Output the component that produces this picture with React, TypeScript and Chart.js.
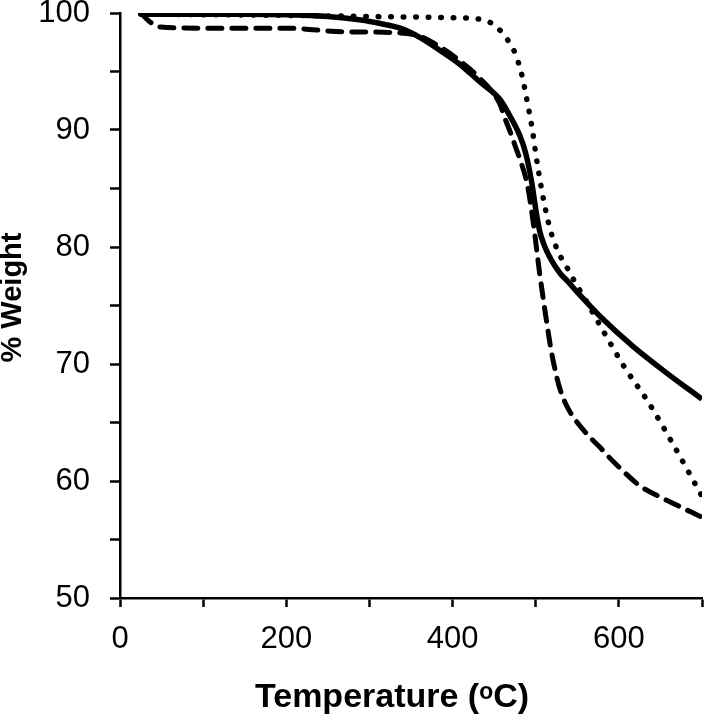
import React, { useEffect, useRef } from "react";
import { Chart, registerables } from "chart.js";

Chart.register(...registerables);

const solidT = [25, 150, 250, 290, 313, 337, 361, 385, 409, 433, 457, 469, 481, 488, 495, 501, 505, 509, 513, 518, 523, 530, 538, 553, 577, 617, 658, 700];
const solidW = [99.9, 99.9, 99.7, 99.4, 99.1, 98.7, 97.9, 96.8, 95.6, 94.1, 92.6, 91.2, 89.5, 88.0, 85.6, 82.8, 81.3, 80.4, 79.7, 79.0, 78.4, 77.7, 77.1, 75.9, 74.1, 71.5, 69.2, 67.0];

const dotT = [25, 200, 300, 400, 430, 445, 453, 461, 469, 475, 479, 484, 488, 492, 496, 500, 504, 509, 517, 527, 538, 548, 559, 571, 583, 607, 634, 664, 700];
const dotW = [99.9, 99.8, 99.7, 99.6, 99.5, 99.2, 98.8, 98.2, 97.4, 96.6, 95.8, 94.5, 93.1, 91.6, 90.0, 88.0, 86.2, 84.2, 81.6, 79.6, 78.2, 76.9, 75.6, 74.1, 72.6, 69.7, 66.9, 63.3, 58.7];

const dashT = [25, 35, 49, 100, 200, 268, 337, 361, 385, 409, 433, 457, 463, 469, 475, 481, 490, 497, 505, 509, 514, 518, 523, 529, 536, 543, 550, 563, 577, 586, 600, 625, 645, 665, 700];
const dashW = [100, 99.3, 98.8, 98.7, 98.7, 98.4, 98.3, 98.0, 97.1, 95.9, 94.4, 92.2, 91.0, 89.9, 88.7, 87.5, 85.3, 82.1, 77.6, 75.6, 73.2, 71.4, 69.6, 67.9, 66.6, 65.7, 65.0, 63.9, 62.9, 62.2, 61.2, 59.6, 58.8, 58.1, 56.9];

const xLabels = [0, 200, 400, 600];
const yLabels = [50, 60, 70, 80, 90, 100];

const xTitle = "Temperature (\u1D52C)";
const yTitle = "% Weight";

const toPts = (xs: number[], ys: number[]) => xs.map((x, i) => ({ x, y: ys[i] }));

const shiftTitle = (s: any, dx: number, dy: number) => {
  if (s.__titleShifted) return;
  s.__titleShifted = true;
  const orig = s.drawTitle.bind(s);
  s.drawTitle = () => {
    const ctx = s.ctx;
    ctx.save();
    ctx.translate(dx, dy);
    orig();
    ctx.restore();
  };
};

export default function App() {
  const ref = useRef<HTMLCanvasElement | null>(null);
  useEffect(() => {
    if (!ref.current) return;
    const font = "'Liberation Sans', Arial, sans-serif";
    const chart = new Chart(ref.current, {
      type: "line",
      data: {
        datasets: [
          {
            label: "dashed",
            data: toPts(dashT, dashW),
            borderColor: "#000",
            borderWidth: 5,
            borderDash: [14, 10],
            borderCapStyle: "round",
            pointRadius: 0,
            cubicInterpolationMode: "monotone",
          },
          {
            label: "dotted",
            data: toPts(dotT, dotW),
            borderColor: "#000",
            borderWidth: 5.5,
            borderDash: [0.5, 12],
            borderCapStyle: "round",
            pointRadius: 0,
            cubicInterpolationMode: "monotone",
          },
          {
            label: "solid",
            data: toPts(solidT, solidW),
            borderColor: "#000",
            borderWidth: 5.5,
            pointRadius: 0,
            cubicInterpolationMode: "monotone",
          },
        ],
      },
      options: {
        animation: false,
        responsive: false,
        layout: { padding: { top: 13, right: 3, left: 0, bottom: 0 } },
        plugins: { legend: { display: false }, tooltip: { enabled: false } },
        scales: {
          x: {
            type: "linear",
            min: 0,
            max: 700,
            afterFit: (s: any) => {
              s.height = 118;
              s.paddingLeft = 0;
              s.paddingRight = 0;
              shiftTitle(s, -19, 0);
            },
            border: { display: true, color: "#000", width: 2.5 },
            grid: { display: true, drawOnChartArea: false, tickLength: 9, tickColor: "#000", tickWidth: 2.5 },
            ticks: {
              stepSize: 100,
              maxRotation: 0,
              autoSkip: false,
              padding: 14,
              color: "#000",
              font: { family: font, size: 31 },
              callback: (v: any) => (xLabels.includes(Number(v)) ? String(v) : ""),
            },
            title: {
              display: true,
              text: xTitle,
              color: "#000",
              padding: 0,
              font: { family: font, size: 34, weight: "bold", lineHeight: 1.1 },
            },
          },
          y: {
            min: 50,
            max: 100,
            afterFit: (s: any) => {
              s.width = 120;
              s.paddingTop = 0;
              s.paddingBottom = 0;
              shiftTitle(s, 0, -8);
            },
            border: { display: true, color: "#000", width: 2.5 },
            grid: { display: true, drawOnChartArea: false, tickLength: 10, tickColor: "#000", tickWidth: 2.5 },
            ticks: {
              stepSize: 5,
              autoSkip: false,
              padding: 20,
              color: "#000",
              font: { family: font, size: 31 },
              callback: (v: any) => (yLabels.includes(Number(v)) ? String(v) : ""),
            },
            title: {
              display: true,
              text: yTitle,
              color: "#000",
              padding: 0,
              font: { family: font, size: 29, weight: "bold", lineHeight: 0.9 },
            },
          },
        },
      },
    } as any);
    return () => chart.destroy();
  }, []);
  return (
    <div style={{ position: "fixed", left: 0, top: 0, width: 705, height: 716, background: "#fff" }}>
      <canvas ref={ref} width={705} height={716} style={{ display: "block" }} />
    </div>
  );
}
